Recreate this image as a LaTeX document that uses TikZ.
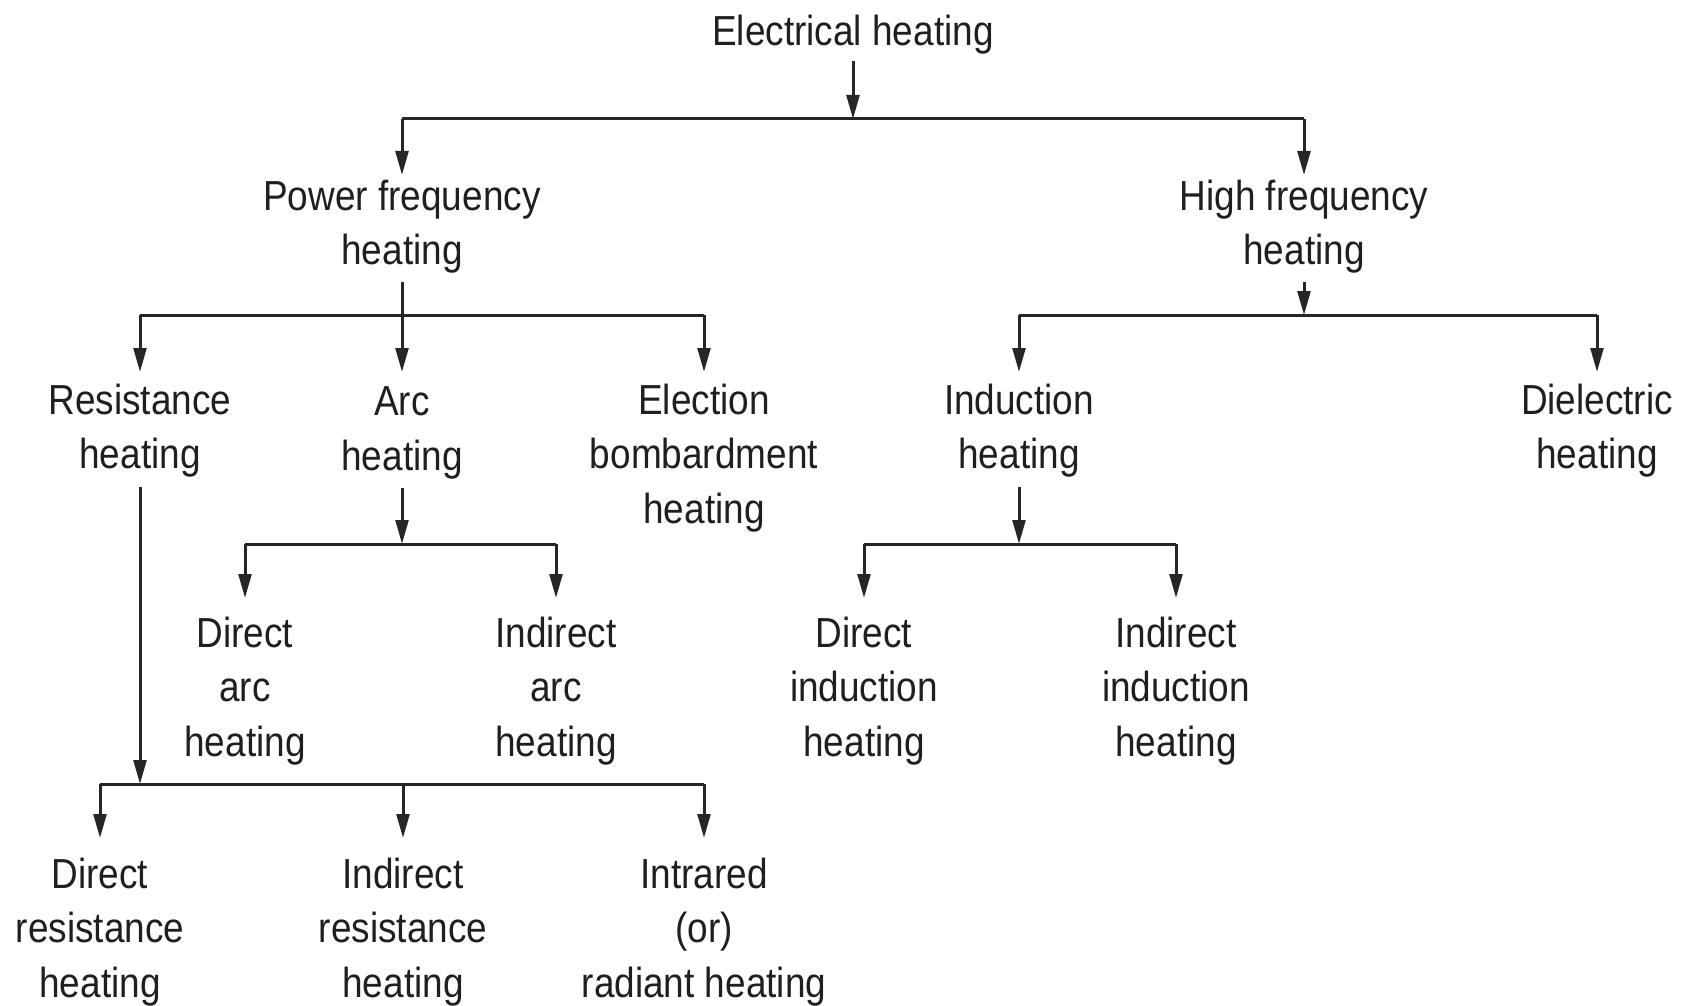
\documentclass[tikz,border=0pt]{standalone}
\usepackage{fontspec}
\setmainfont{Liberation Sans}[FakeStretch=0.88]
\usetikzlibrary{arrows.meta}
\begin{document}
\begin{tikzpicture}[x=0.5pt,y=-0.5pt,
  lbl/.style={inner sep=0pt, outer sep=0pt, anchor=north, align=center,
    font=\fontsize{21pt}{27.2pt}\selectfont, text=black!88},
  conn/.style={line width=1.5pt, draw=black!85},
  arr/.style={conn, -{Triangle[length=12pt,width=6.4pt]}}]
\useasboundingbox (0,0) rectangle (1694,1006);
% nodes
\node[lbl] (EH) at (853,15) {Electrical heating};
\node[lbl] (PF) at (402,180) {Power frequency\\heating};
\node[lbl] (HF) at (1304,180) {High frequency\\heating};
\node[lbl] (RH) at (140,384) {Resistance\\heating};
\node[lbl] (AH) at (402,387) {Arc\\heating};
\node[lbl] (EB) at (704,384) {Election\\bombardment\\heating};
\node[lbl] (IH) at (1019,384) {Induction\\heating};
\node[lbl] (DH) at (1597,384) {Dielectric\\heating};
\node[lbl] (DA) at (245,617) {Direct\\arc\\heating};
\node[lbl] (IA) at (556,617) {Indirect\\arc\\heating};
\node[lbl] (DI) at (864,617) {Direct\\induction\\heating};
\node[lbl] (II) at (1176,617) {Indirect\\induction\\heating};
\node[lbl] (DR) at (100,858) {Direct\\resistance\\heating};
\node[lbl] (IR) at (403,858) {Indirect\\resistance\\heating};
\node[lbl] (RA) at (704,858) {Intrared\\(or)\\radiant heating};
% junction coordinates
\coordinate (b1) at (853,119);
\coordinate (b1l) at (402,119);
\coordinate (b1r) at (1304,119);
\coordinate (b2l) at (140,315);
\coordinate (b2r) at (704,315);
\coordinate (b2h) at (1304,315);
\coordinate (b2hl) at (1019,315);
\coordinate (b2hr) at (1597,315);
\coordinate (b3a) at (402,544);
\coordinate (b3l) at (245,544);
\coordinate (b3r) at (556,544);
\coordinate (b3i) at (1019,544);
\coordinate (b3il) at (864,544);
\coordinate (b3ir) at (1176,544);
\coordinate (b4) at (140,784);
\coordinate (b4l) at (100,784);
\coordinate (b4m) at (403,784);
\coordinate (b4r) at (704,784);
% level 0 -> 1
\draw[arr, shorten <=3.5pt] (EH) -- (b1);
\draw[conn] (b1l) -- (b1r);
\draw[arr, shorten >=2.5pt] (b1l) -- (PF);
\draw[arr, shorten >=2.5pt] (b1r) -- (HF);
% power frequency
\draw[conn] (b2l) -- (b2r);
\draw[arr, shorten <=4pt, shorten >=7.5pt] (PF) -- (AH);
\draw[arr, shorten >=6pt] (b2l) -- (RH);
\draw[arr, shorten >=6pt] (b2r) -- (EB);
% high frequency
\draw[arr, shorten <=4pt] (HF) -- (b2h);
\draw[conn] (b2hl) -- (b2hr);
\draw[arr, shorten >=6pt] (b2hl) -- (IH);
\draw[arr, shorten >=6pt] (b2hr) -- (DH);
% arc
\draw[arr, shorten <=4.5pt] (AH) -- (b3a);
\draw[conn] (b3l) -- (b3r);
\draw[arr, shorten >=9.5pt] (b3l) -- (DA);
\draw[arr, shorten >=9.5pt] (b3r) -- (IA);
% induction
\draw[arr, shorten <=4.5pt] (IH) -- (b3i);
\draw[conn] (b3il) -- (b3ir);
\draw[arr, shorten >=9.5pt] (b3il) -- (DI);
\draw[arr, shorten >=9.5pt] (b3ir) -- (II);
% resistance
\draw[arr, shorten <=4.5pt] (RH) -- (b4);
\draw[conn] (b4l) -- (b4r);
\draw[arr, shorten >=10pt] (b4l) -- (DR);
\draw[arr, shorten >=10pt] (b4m) -- (IR);
\draw[arr, shorten >=10pt] (b4r) -- (RA);
\end{tikzpicture}
\end{document}
